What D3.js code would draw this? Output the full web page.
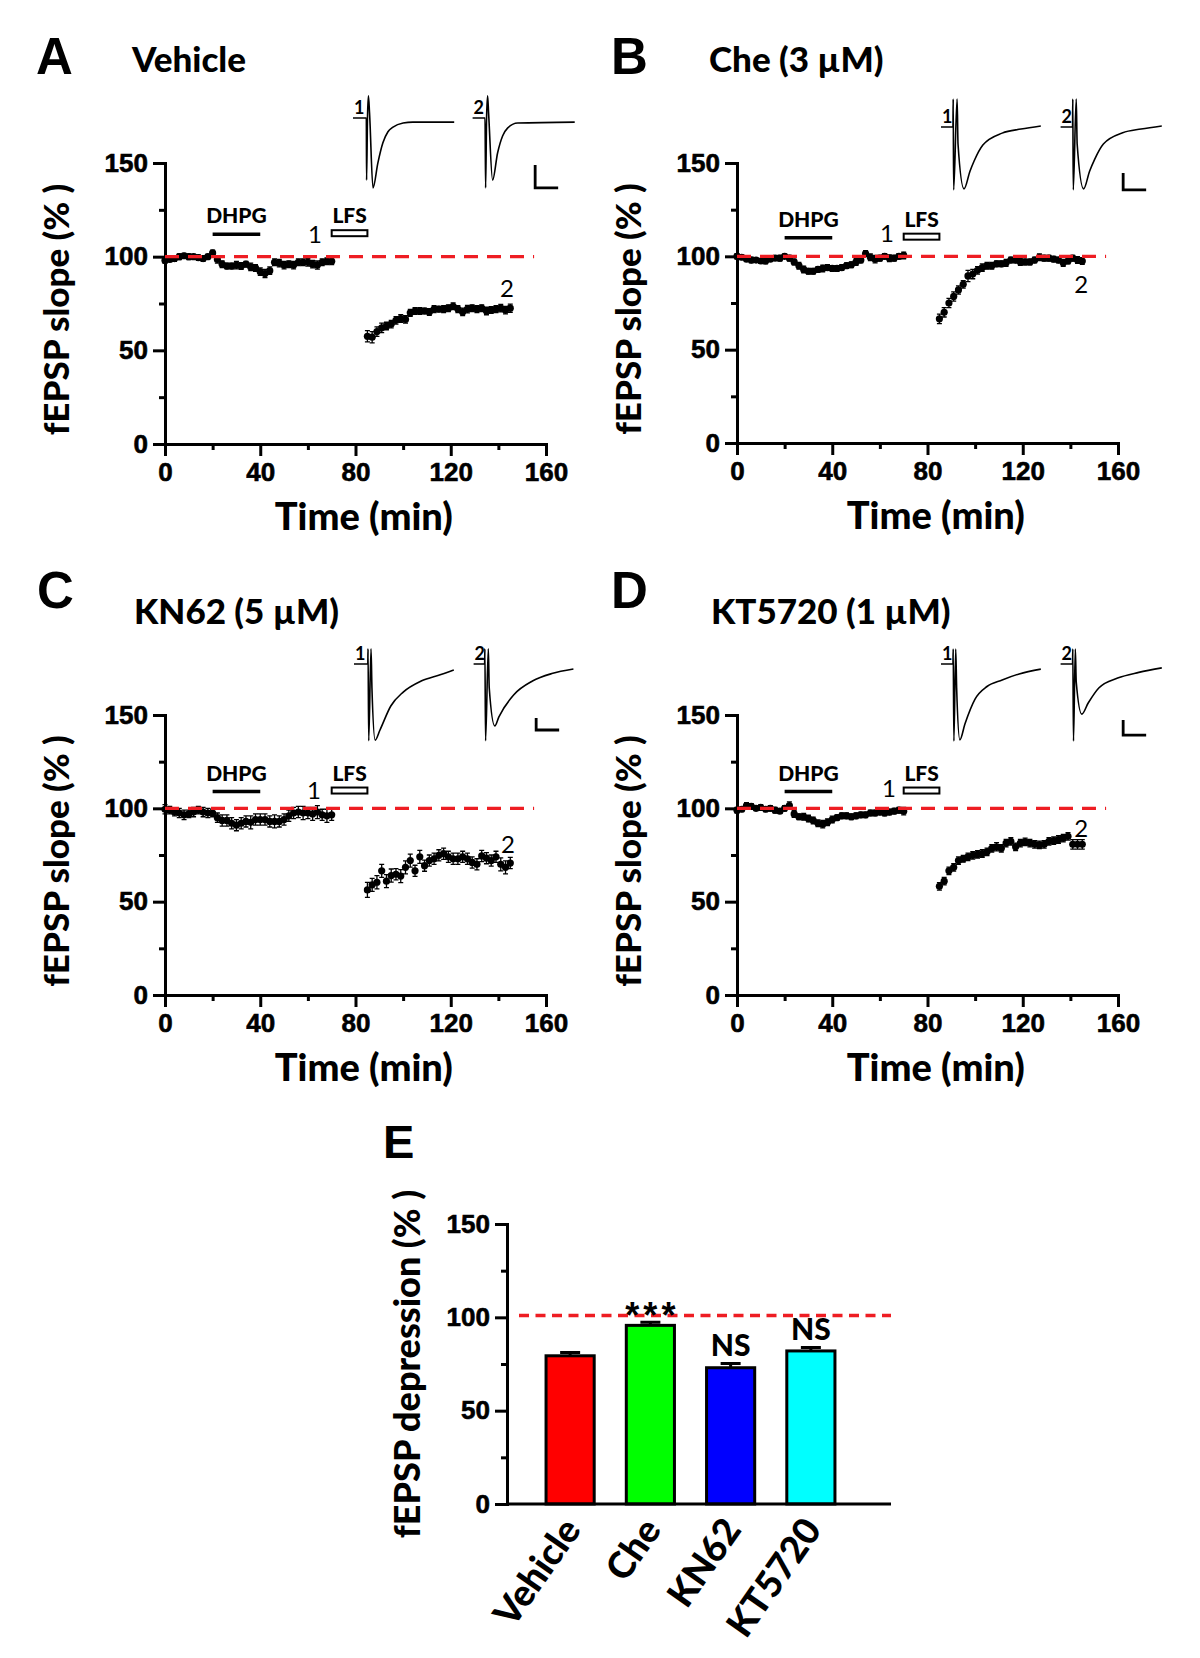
<!DOCTYPE html>
<html><head><meta charset="utf-8">
<script src="https://cdn.jsdelivr.net/npm/d3@7"></script>
<style>body{margin:0;background:#fff} svg{display:block}</style>
</head><body>
<svg id="fig" width="1200" height="1658"></svg>
<script>
// ---------------- DATA ----------------
const preTimes  = [0,2,4,6,8,10,12,14,16,18,20,22,24,26,28,30,32,34,36,38,40,42,44,46,48,50,52,54,56,58,60,62,64,66,68,70];
const postTimes = [85,87,89,91,93,95,97,99,101,103,105,107,109,111,113,115,117,119,121,123,125,127,129,131,133,135,137,139,141,143,145];

const vehPre  = [98,98.5,99,100,100.5,100,100,99.5,99,100,102,98.5,96,95,95,95.5,95,96,94.5,94,92,91,92.5,97,96.5,95.5,96,95.5,97,97,97,96,95.5,97,97.5,97.5];
const vehPreErr = [1.5,1.2,1.5,1.5,1.2,1.5,1.2,1.5,1.5,1.2,1.5,2,1.8,1.5,1.5,2,1.8,1.5,2,1.8,2,2.2,2,1.8,2,2,1.8,2,1.8,1.8,2,2,2.2,1.8,1.8,1.8];
const vehPost = [57.5,57,60,62,63,64,66,67,66.5,70,71,71,71,70.5,72,72,72,72.5,73.5,72,70.5,72,72.5,72,72.5,71,71.5,72,72.5,71.5,72.5];
const vehPostErr = [3,3,2.5,2.5,2,2,2,2,2,1.8,1.8,1.8,1.5,1.8,1.8,1.5,1.8,1.8,1.8,1.8,2,2,1.8,1.8,1.8,2,1.8,1.8,2,2,2.2];

const chePre  = [100,99.5,98.5,98,98,97.5,97.5,98.5,99,99,100,99,97,95,93,92,92,93,93.5,94,93.5,93.5,94,95,95.5,97,98,101.5,99.5,98.5,99,100,99,99,100,100.5];
const chePreErr = [1.5,1.2,1.2,1.5,1.2,1.2,1.5,1.2,1.2,1.5,1.2,1.5,1.5,1.8,1.8,1.5,1.5,1.5,1.8,1.5,1.5,1.5,1.5,1.5,1.5,1.8,1.5,1.5,1.8,2,1.5,1.5,1.8,1.5,1.5,1.8];
const chePost = [66.5,70,75,78.5,82,85,89.5,90.5,92.5,94,95,95,96,96,96.5,98,98,97,97,97,98,99.5,99,99,98.5,98,96.5,97.5,99,98,97.5];
const chePostErr = [2.5,2.5,2.5,2.5,2.2,2,3,2.5,2,2,1.8,1.8,1.5,1.5,1.8,1.5,1.5,1.8,1.5,1.5,1.5,1.8,1.5,1.5,1.5,1.5,1.8,1.5,1.5,1.8,1.8];

const knPre  = [99.5,99,98,97.5,96.5,97,98,99,98,97.5,97.5,95,93.5,93.5,92,91,92,93,92.5,94,94,94,93,93,93,94,96,97.5,98,97.5,97.5,97,98,96.5,96,96.5];
const knPreErr = [2.5,2,2,2.5,2.5,2,2.5,2,2.5,2.5,2,2.5,3,3,3,3,3,3,3.5,3,3,3,3,3.5,3,3,3,3,3,3.5,3,3.5,3.5,3,3.5,3];
const knPost = [56.3,59,60.4,66.5,61,64,64.7,63.7,68.4,72,66.5,74,69.3,72,73,74.8,75.7,74,73,73,74,73,71,70,74.5,73.3,72,74,70,68.4,70.7];
const knPostErr = [4,3.5,3.5,3.5,3.5,3.5,3,3.5,3.5,3.5,3,3.5,3,3,3,3,3,3,3,3,3,3,3,3,3,3,3,3,3.5,3.5,3];

const ktPre  = [99,99.5,101.5,101,100,100.5,99.5,100,99,98.5,100,101.5,97,95.5,95.5,94.5,93.5,92,91.5,92.5,94,95,96,96,95.5,96,96.5,96.5,97.5,97.5,98,97.5,98,98.5,99,98.5];
const ktPreErr = [1.5,1.2,1.5,1.5,1.2,1.5,1.2,1.5,1.5,1.2,1.5,2,1.8,1.5,1.8,1.8,1.8,1.8,2,1.8,1.8,1.5,1.5,1.5,1.5,1.5,1.5,1.5,1.5,1.5,1.5,1.5,1.5,1.5,1.5,2];
const ktPost = [58.2,61,66.5,68.4,72,73,74,74.8,75.3,75.8,76.7,78.6,79.4,78.6,81.4,82.3,79.4,81.4,82,81.4,80.7,80.4,80.7,82.3,82.7,83.3,84,85,80.7,80.7,80.7];
const ktPostErr = [2,2,2,2,2,1.8,2,2,2,2,2,2,2.2,2,2,2,2,2,2,2,2,2,2,2,2,2,2,2,2.5,2.5,2.5];

// example fEPSP traces: [ms, mV]
const vehTrace1 = [[0,0],[2.9,0],[2.95,-1.35],[3.15,0],[3.35,0.48],[3.6,0.1],[4.35,-1.52],[5.4,-0.98],[6.5,-0.54],[7.6,-0.3],[8.7,-0.2],[10.9,-0.11],[13,-0.09],[22,-0.09]];
const vehTrace2 = [[0,0],[2.7,0],[2.83,-1.52],[3.04,0],[3.26,0.48],[3.48,0.1],[4.35,-1.35],[5.43,-0.76],[6.52,-0.39],[7.6,-0.22],[9.8,-0.11],[22.2,-0.09]];
const cheTrace1 = [[0,0],[2.6,0],[2.65,0.82],[2.75,-1.85],[3.5,0.82],[3.7,-0.5],[5.0,-1.82],[6.3,-1.3],[7.2,-1.0],[9.1,-0.53],[13.3,-0.18],[17.4,-0.06],[21.7,0.03]];
const cheTrace2 = [[0,0],[2.6,0],[2.65,0.82],[2.75,-1.85],[3.4,0.82],[3.6,-0.5],[5.0,-1.82],[6.3,-1.3],[7.4,-0.95],[9.3,-0.5],[13.5,-0.17],[17.5,-0.06],[22,0.03]];
const knTrace1 = [[0,0],[3.0,0],[3.05,0.63],[3.2,-3.2],[3.7,0.63],[3.9,-1.0],[4.6,-3.17],[5.65,-2.75],[8.0,-1.75],[10.7,-1.17],[14.6,-0.71],[18.9,-0.44],[21.7,-0.25]];
const knTrace2 = [[0,0],[2.4,0],[2.45,0.63],[2.6,-3.2],[3.2,0.63],[3.4,-1.0],[4.6,-2.58],[5.5,-2.2],[8.7,-1.29],[12.8,-0.71],[17,-0.4],[21.7,-0.21]];
const ktTrace1 = [[0,0],[2.6,0],[2.65,0.5],[2.8,-2.57],[3.2,0.5],[3.4,-0.8],[4.1,-2.53],[5.2,-2.0],[7.4,-1.17],[10,-0.75],[13.3,-0.53],[17,-0.33],[21.7,-0.17]];
const ktTrace2 = [[0,0],[2.6,0],[2.65,0.5],[2.8,-2.57],[3.2,0.5],[3.4,-0.6],[4.6,-1.67],[6,-1.3],[8.3,-0.8],[12.4,-0.47],[17,-0.28],[22,-0.13]];
const scaleBarMs = 5, scaleBarMV = 0.5;

const panelLetters = ["A","B","C","D"];
const panelTitles  = ["Vehicle","Che (3 µM)","KN62 (5 µM)","KT5720 (1 µM)"];
const yMajorTicks = [0,50,100,150];
const yMinorTicks = [25,75,125];
const xMajorTicks = [0,40,80,120,160];
const xMinorTicks = [20,60,100,140];
const dhpgPeriod = [20,40];
const lfsPeriod  = [70,85];

const barCategories = ["Vehicle","Che","KN62","KT5720"];
const barValues = [79.4,95.7,73.0,82.0];
const barErrors = [1.8,1.6,2.3,1.9];
const barColors = ["#ff0000","#00ff00","#0000ff","#00ffff"];
const barMarks  = ["","***","NS","NS"];

// ---------------- LAYOUT ----------------
const ARIAL = "'Liberation Sans', Arial, sans-serif";
const CAL = "Lato, 'Open Sans', sans-serif";
const RED = "#ee1d23";
const HEAVY = 900;
const svg = d3.select("#fig");

const layouts = [
 {x0:165,x1:546,y0:444,y1:163,lx:36,ly:74,tx:132,ty:72,ox:353,oy:118,mvPx:46,sb:-1.52,ann:112,l1:[63,107.3],l2:[143.6,78.5]},
 {x0:737,x1:1118,y0:443,y1:163,lx:611,ly:74,tx:709,ty:72,ox:941,oy:127,mvPx:34,sb:-1.85,ann:110,l1:[63,107.5],l2:[144.5,80.6]},
 {x0:165,x1:546,y0:995,y1:715,lx:37,ly:608,tx:134,ty:624,ox:354,oy:664,mvPx:24,sb:-2.75,ann:109,l1:[62.6,105],l2:[144,76]},
 {x0:737,x1:1118,y0:995,y1:715,lx:611,ly:608,tx:711,ty:624,ox:941,oy:664,mvPx:30,sb:-2.37,ann:109,l1:[63.8,106],l2:[144.5,84.6]}
];
const panelData = [
 {pre:vehPre,preErr:vehPreErr,post:vehPost,postErr:vehPostErr,tr:[vehTrace1,vehTrace2]},
 {pre:chePre,preErr:chePreErr,post:chePost,postErr:chePostErr,tr:[cheTrace1,cheTrace2]},
 {pre:knPre,preErr:knPreErr,post:knPost,postErr:knPostErr,tr:[knTrace1,knTrace2]},
 {pre:ktPre,preErr:ktPreErr,post:ktPost,postErr:ktPostErr,tr:[ktTrace1,ktTrace2]}
];

function styleAxis(g, fs){
  g.attr("font-size",null).attr("font-family",null);
  g.selectAll("path,line").attr("stroke","#000").attr("stroke-width",3);
  g.selectAll(".domain").attr("stroke-linecap","square");
  g.selectAll("text").attr("font-family",ARIAL).attr("font-size",fs).attr("font-weight","bold").attr("fill","#000")
    .attr("stroke","#000").attr("stroke-width",0.6);
}

function drawPanel(i){
  const L = layouts[i], P = panelData[i];
  const g = svg.append("g");
  const x = d3.scaleLinear().domain([0,160]).range([L.x0,L.x1]);
  const y = d3.scaleLinear().domain([0,150]).range([L.y0,L.y1]);

  g.append("text").attr("x",L.lx).attr("y",L.ly).text(panelLetters[i])
    .attr("font-family",ARIAL).attr("font-weight","bold").attr("font-size",51);
  g.append("text").attr("x",L.tx).attr("y",L.ty).text(panelTitles[i])
    .attr("font-family",CAL).attr("font-weight",HEAVY).attr("font-size",35);

  // axes
  const ya = g.append("g").attr("transform",`translate(${L.x0},0)`)
    .call(d3.axisLeft(y).tickValues(yMajorTicks).tickSize(12).tickSizeOuter(0).tickPadding(5).tickFormat(d3.format("d")));
  styleAxis(ya,26);
  const ym = g.append("g").attr("transform",`translate(${L.x0},0)`)
    .call(d3.axisLeft(y).tickValues(yMinorTicks).tickSize(6).tickFormat(""));
  ym.select(".domain").remove(); styleAxis(ym,26);
  const xa = g.append("g").attr("transform",`translate(0,${L.y0})`)
    .call(d3.axisBottom(x).tickValues(xMajorTicks).tickSize(12).tickSizeOuter(0).tickPadding(7).tickFormat(d3.format("d")));
  styleAxis(xa,26);
  const xm = g.append("g").attr("transform",`translate(0,${L.y0})`)
    .call(d3.axisBottom(x).tickValues(xMinorTicks).tickSize(6).tickFormat(""));
  xm.select(".domain").remove(); styleAxis(xm,26);

  g.append("text").attr("transform",`translate(${L.x0-96},${(L.y0+L.y1)/2+6}) rotate(-90)`)
    .attr("text-anchor","middle").text("fEPSP slope (% )")
    .attr("font-family",CAL).attr("font-weight",HEAVY).attr("font-size",35);
  g.append("text").attr("x",x(83.5)).attr("y",L.y0+86).attr("text-anchor","middle").text("Time (min)")
    .attr("font-family",CAL).attr("font-weight",HEAVY).attr("font-size",38);

  // data points
  const series = [{t:preTimes,v:P.pre,e:P.preErr},{t:postTimes,v:P.post,e:P.postErr}];
  series.forEach(s=>{
    const pts = s.t.map((t,k)=>({t:t,v:s.v[k],e:s.e[k]}));
    g.append("g").selectAll("path").data(pts).join("path")
      .attr("d",d=>{const cx=x(d.t),a=y(d.v+d.e),b=y(d.v-d.e);
        return `M${cx-2.5},${a}H${cx+2.5}M${cx},${a}V${b}M${cx-2.5},${b}H${cx+2.5}`;})
      .attr("stroke","#000").attr("stroke-width",1.3).attr("fill","none");
    g.append("g").selectAll("circle").data(pts).join("circle")
      .attr("cx",d=>x(d.t)).attr("cy",d=>y(d.v)).attr("r",3.6).attr("fill","#000");
  });

  // baseline dashed line
  g.append("line").attr("x1",x(0)).attr("x2",x(155)).attr("y1",y(100)).attr("y2",y(100))
    .attr("stroke",RED).attr("stroke-width",3.4).attr("stroke-dasharray","14,9");

  // DHPG / LFS annotations
  g.append("line").attr("x1",x(dhpgPeriod[0])).attr("x2",x(dhpgPeriod[1]))
    .attr("y1",y(L.ann)).attr("y2",y(L.ann)).attr("stroke","#000").attr("stroke-width",3.5);
  g.append("text").attr("x",x((dhpgPeriod[0]+dhpgPeriod[1])/2)).attr("y",y(L.ann)-11)
    .attr("text-anchor","middle").text("DHPG").attr("font-family",CAL).attr("font-weight",HEAVY).attr("font-size",21);
  g.append("rect").attr("x",x(lfsPeriod[0])).attr("width",x(lfsPeriod[1])-x(lfsPeriod[0]))
    .attr("y",y(L.ann)-4).attr("height",6).attr("fill","#fff").attr("stroke","#000").attr("stroke-width",2);
  g.append("text").attr("x",x((lfsPeriod[0]+lfsPeriod[1])/2)).attr("y",y(L.ann)-11)
    .attr("text-anchor","middle").text("LFS").attr("font-family",CAL).attr("font-weight",HEAVY).attr("font-size",21);
  [["1",L.l1],["2",L.l2]].forEach(([s,pos])=>{
    g.append("text").attr("x",x(pos[0])).attr("y",y(pos[1])).attr("text-anchor","middle").text(s)
      .attr("font-family",CAL).attr("font-size",24);
  });

  // example traces
  const tx = d3.scaleLinear().domain([0,1]).range([L.ox,L.ox+4.6]);
  const ty = d3.scaleLinear().domain([0,-1]).range([L.oy,L.oy+L.mvPx]);
  const offsets = [0,26];
  P.tr.forEach((tr,k)=>{
    const line = d3.line().x(d=>tx(d[0]+offsets[k])).y(d=>ty(d[1])).curve(d3.curveMonotoneX);
    g.append("path").attr("d",line(tr)).attr("fill","none").attr("stroke","#000").attr("stroke-width",1.6);
    g.append("text").attr("x",tx(offsets[k])+1).attr("y",ty(0)-4).text(String(k+1))
      .attr("font-family",CAL).attr("font-weight","bold").attr("font-size",18);
  });
  const sbPts = [[39.6,L.sb+scaleBarMV],[39.6,L.sb],[39.6+scaleBarMs,L.sb]];
  g.append("path").attr("d",d3.line().x(d=>tx(d[0])).y(d=>ty(d[1]))(sbPts))
    .attr("fill","none").attr("stroke","#000").attr("stroke-width",2.8);
}
[0,1,2,3].forEach(drawPanel);

// ---------------- PANEL E ----------------
(function(){
  const g = svg.append("g");
  const left = 507, right = 891;
  const yE = d3.scaleLinear().domain([0,150]).range([1504,1224]);
  const xE = d3.scaleBand().domain(barCategories).range([530,851]).paddingInner(0.4).paddingOuter(0.2);

  g.append("text").attr("x",383).attr("y",1158).text("E")
    .attr("font-family",ARIAL).attr("font-weight","bold").attr("font-size",47);

  // dashed line
  g.append("line").attr("x1",left+12).attr("x2",right).attr("y1",yE(101)).attr("y2",yE(101))
    .attr("stroke",RED).attr("stroke-width",3.6).attr("stroke-dasharray","10,6.5");

  // bars
  barCategories.forEach((c,k)=>{
    const cx = xE(c)+xE.bandwidth()/2;
    const top = yE(barValues[k]+barErrors[k]);
    g.append("path").attr("d",`M${cx},${yE(barValues[k])}V${top}M${cx-10},${top}H${cx+10}`)
      .attr("stroke","#000").attr("stroke-width",3).attr("fill","none");
    g.append("rect").attr("x",xE(c)).attr("width",xE.bandwidth())
      .attr("y",yE(barValues[k])).attr("height",yE(0)-yE(barValues[k]))
      .attr("fill",barColors[k]).attr("stroke","#000").attr("stroke-width",3);
    if(barMarks[k]==="***"){
      g.append("text").attr("x",cx+2).attr("y",top+6).attr("text-anchor","middle").text(barMarks[k])
        .attr("font-family",ARIAL).attr("font-weight","bold").attr("font-size",36).attr("letter-spacing",4);
    } else if(barMarks[k]){
      g.append("text").attr("x",cx).attr("y",top-7).attr("text-anchor","middle").text(barMarks[k])
        .attr("font-family",CAL).attr("font-weight",HEAVY).attr("font-size",30);
    }
    g.append("text").attr("transform",`translate(${cx+12},${1530}) rotate(-55)`)
      .attr("text-anchor","end").text(c)
      .attr("font-family",CAL).attr("font-weight",HEAVY).attr("font-size",37);
  });

  const ya = g.append("g").attr("transform",`translate(${left},0)`)
    .call(d3.axisLeft(yE).tickValues(yMajorTicks).tickSize(12).tickSizeOuter(0).tickPadding(5).tickFormat(d3.format("d")));
  styleAxis(ya,26);
  const ym = g.append("g").attr("transform",`translate(${left},0)`)
    .call(d3.axisLeft(yE).tickValues(yMinorTicks).tickSize(6).tickFormat(""));
  ym.select(".domain").remove(); styleAxis(ym,26);
  g.append("line").attr("x1",left).attr("x2",right).attr("y1",yE(0)).attr("y2",yE(0))
    .attr("stroke","#000").attr("stroke-width",3);

  g.append("text").attr("transform",`translate(420,${(1504+1224)/2}) rotate(-90)`)
    .attr("text-anchor","middle").text("fEPSP depression (% )")
    .attr("font-family",CAL).attr("font-weight",HEAVY).attr("font-size",36);
})();
</script>
</body></html>
